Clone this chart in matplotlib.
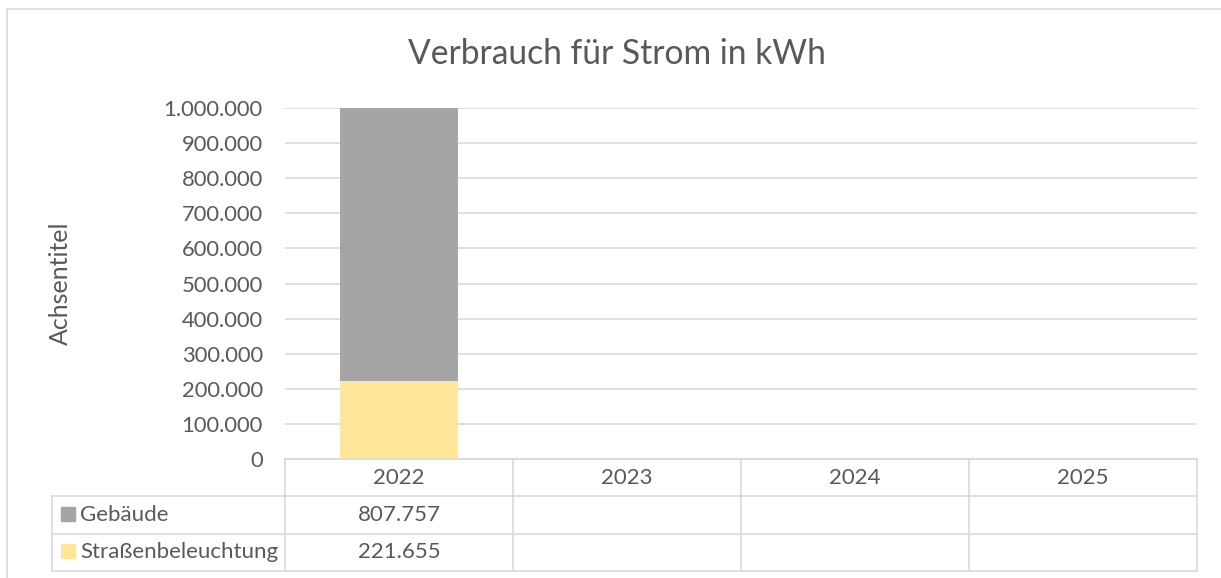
import matplotlib.pyplot as plt
from matplotlib.lines import Line2D
from matplotlib.patches import Rectangle
from matplotlib.ticker import FuncFormatter, MultipleLocator

# data
years = ["2022", "2023", "2024", "2025"]
strassen = [221655, None, None, None]
gebaeude = [807757, None, None, None]
series_names = ["Gebäude", "Straßenbeleuchtung"]

GRAY = "#a5a5a5"
YELLOW = "#ffe699"
TXT = "#595959"
LINE = "#d9d9d9"

W, H = 1221, 578
plt.rcParams['font.family'] = ['Lato', 'DejaVu Sans']

fig = plt.figure(figsize=(W / 100, H / 100), dpi=100)


def fx(x):
    return x / W


def fy(y):
    return 1 - y / H


# plot area in pixels
L, R, T, B = 285, 1197, 108, 459
ax = fig.add_axes([fx(L), fy(B), fx(R) - fx(L), fy(T) - fy(B)])


def de_fmt(v, pos):
    return "{:,.0f}".format(v).replace(",", ".")


xs = range(len(years))
s_vals = [v if v is not None else 0 for v in strassen]
g_vals = [v if v is not None else 0 for v in gebaeude]
ax.bar(xs, s_vals, width=0.515, color=YELLOW, zorder=3)
ax.bar(xs, g_vals, bottom=s_vals, width=0.515, color=GRAY, zorder=3)

ax.set_xlim(-0.5, len(years) - 0.5)
ax.set_ylim(0, 1000000)
ax.yaxis.set_major_locator(MultipleLocator(100000))
ax.yaxis.set_major_formatter(FuncFormatter(de_fmt))
ax.grid(axis="y", color=LINE, linewidth=1.2, zorder=0)
for s in ax.spines.values():
    s.set_visible(False)
ax.set_xticks([])
ax.tick_params(axis="y", length=0, labelsize=15.8, labelcolor=TXT, pad=16)

fig.text(fx(60), fy(283), "Achsentitel", rotation=90, ha="center", va="center",
         fontsize=18, color=TXT)
fig.text(fx(617), fy(54), "Verbrauch für Strom in kWh", ha="center", va="center",
         fontsize=24.2, color=TXT)

# outer chart border
fig.add_artist(Line2D([fx(7), fx(7)], [fy(9), fy(578)], color=LINE, lw=1.2))
fig.add_artist(Line2D([fx(7), fx(1221)], [fy(9), fy(9)], color=LINE, lw=1.2))

# data table
cols = [L + i * (R - L) / len(years) for i in range(len(years) + 1)]
rows = [459, 496, 534, 571]
lab_left = 52
kw = dict(color=LINE, lw=1.2)
fig.add_artist(Line2D([fx(L), fx(R)], [fy(rows[0])] * 2, **kw))
for r in rows[1:]:
    fig.add_artist(Line2D([fx(lab_left), fx(R)], [fy(r)] * 2, **kw))
for c in cols:
    fig.add_artist(Line2D([fx(c)] * 2, [fy(rows[0]), fy(rows[-1])], **kw))
fig.add_artist(Line2D([fx(lab_left)] * 2, [fy(rows[1]), fy(rows[-1])], **kw))

for i, y in enumerate(years):
    fig.text(fx((cols[i] + cols[i + 1]) / 2), fy((rows[0] + rows[1]) / 2 + 1), y,
             ha="center", va="center", fontsize=16, color=TXT)

for j, (name, vals, col) in enumerate(zip(series_names, [gebaeude, strassen], [GRAY, YELLOW])):
    yc = (rows[j + 1] + rows[j + 2]) / 2
    fig.add_artist(Rectangle((fx(61), fy(yc + 5.5)), fx(14), fy(0) - fy(14),
                             color=col, transform=fig.transFigure))
    fig.text(fx(80), fy(yc), name, ha="left", va="center", fontsize=16, color=TXT)
    for i, v in enumerate(vals):
        if v is not None:
            fig.text(fx((cols[i] + cols[i + 1]) / 2), fy(yc), de_fmt(v, None),
                     ha="center", va="center", fontsize=16, color=TXT)

fig.savefig("out.png", dpi=100, facecolor="white")
